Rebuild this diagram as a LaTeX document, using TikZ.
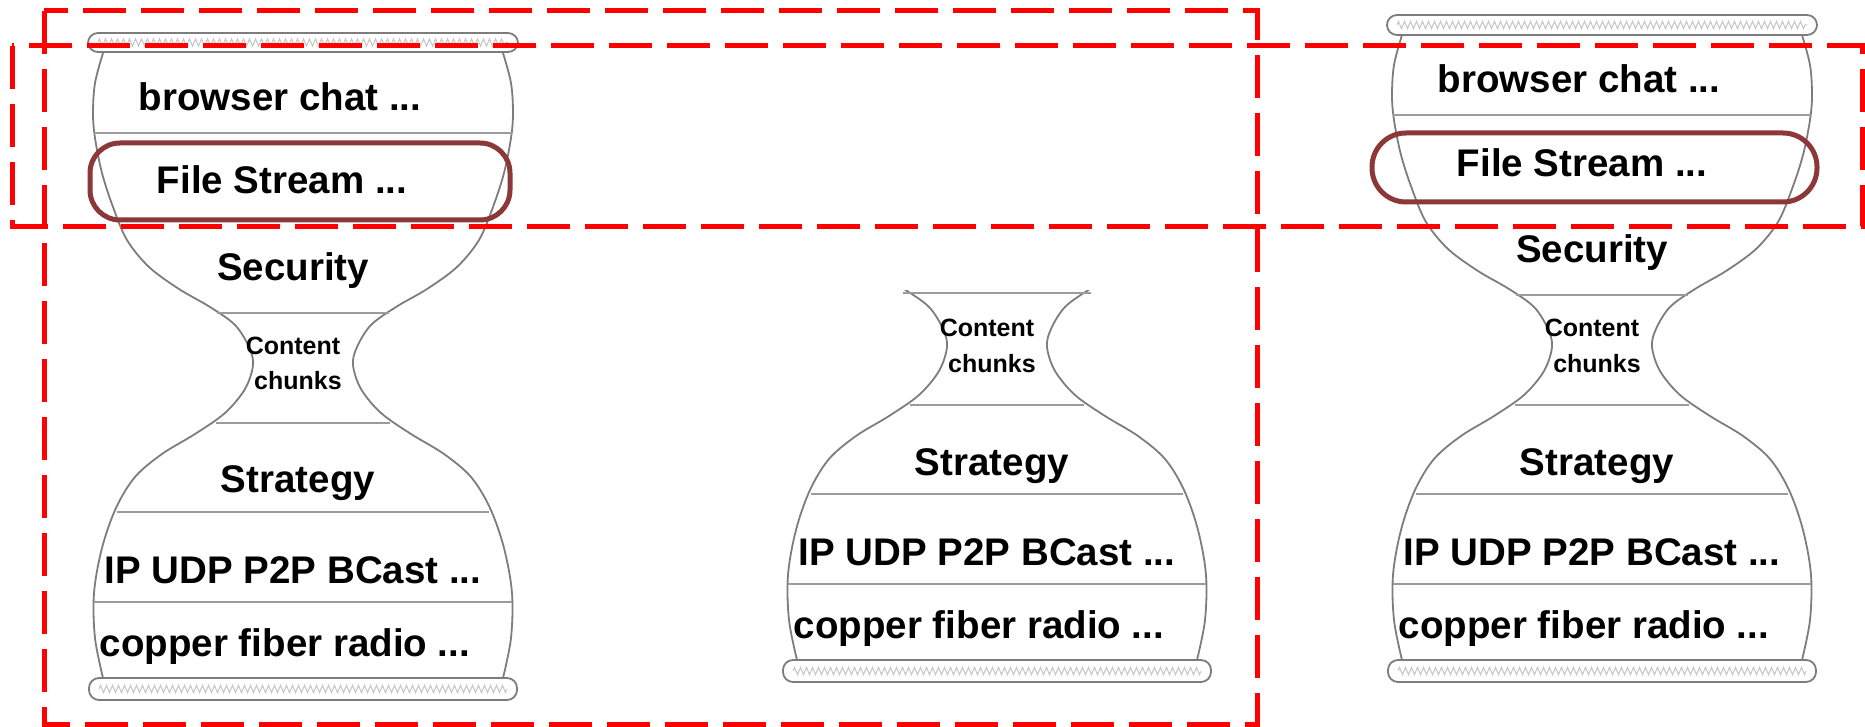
\documentclass[tikz,border=0pt]{standalone}
\usepackage{fontspec}
\setmainfont{Liberation Sans}
\usepackage{tikz}
\usetikzlibrary{decorations.pathmorphing}

\definecolor{markred}{RGB}{255,0,0}
\definecolor{ringbrown}{RGB}{140,56,56}
\definecolor{glassgray}{RGB}{125,125,125}
\definecolor{layergray}{RGB}{155,155,155}

\tikzset{
  glassline/.style={draw=glassgray, line width=0.9pt},
  layerline/.style={draw=layergray, line width=1pt},
  capbox/.style={draw=glassgray, fill=white, line width=0.9pt, rounded corners=5pt},
  capzig/.style={draw=gray!45, line width=0.5pt, decorate, decoration={zigzag, segment length=3pt, amplitude=1.8pt}},
  layertext/.style={font=\bfseries\fontsize{19.25}{23}\selectfont, anchor=base, inner sep=0pt},
  chunktext/.style={font=\bfseries\fontsize{12.5}{15}\selectfont, anchor=base, inner sep=0pt},
  ringbox/.style={draw=ringbrown, line width=2.5pt},
  markbox/.style={draw=markred, line width=2.5pt, dash pattern=on 21.5pt off 7.5pt},
}

% one side of the glass, from the top cap down to the bottom cap
\newcommand{\glassside}{plot[smooth, tension=0.55] coordinates {(200,20) (208,50) (210,80) (208,105) (201,140) (190,174) (176,207) (154,234) (124,256) (93,274) (68,292) (54,314) (50,332) (58,356) (78,380) (108,401) (141,421) (168,444) (187,475) (201,515) (209,560) (208,605) (200,645)}}

\begin{document}
\begin{tikzpicture}[x=0.5pt, y=-0.5pt]
    \useasboundingbox (0,0) rectangle (1865,727);

    % left glass
    \begin{scope}[shift={(303,33)}]
         \draw[glassline] \glassside;
         \draw[glassline, xscale=-1] \glassside;
         \draw[capbox] (-215,0) rectangle (215,19);
         \draw[capzig] (-205,9.5) -- (205,9.5);
         \draw[capbox] (-214,645) rectangle (214,667);
         \draw[capzig] (-204,656) -- (204,656);
         \draw[layerline] (-209,100) -- (209,100);
         \draw[layerline] (-86,280) -- (86,280);
         \draw[layerline] (-87,390) -- (87,390);
         \draw[layerline] (-186,479) -- (186,479);
         \draw[layerline] (-209,569) -- (209,569);
         \node[layertext] (lapp) at (-23,78) {browser chat ...};
         \node[layertext] (lfile) at (-21,161) {File Stream ...};
         \node[layertext] (lsec) at (-10,248) {Security};
         \node[chunktext] (lcontent) at (-10,322) {Content};
         \node[chunktext] (lchunks) at (-5,357) {chunks};
         \node[layertext] (lstrat) at (-5,460) {Strategy};
         \node[layertext] (lnet) at (-10,550) {IP UDP P2P BCast ...};
         \node[layertext] (lphy) at (-18,623) {copper fiber radio ...};
    \end{scope}

    % middle glass, lower half only
    \begin{scope}[shift={(997,15)}]
         \clip (-260,276) rectangle (260,700);
         \draw[glassline] \glassside;
         \draw[glassline, xscale=-1] \glassside;
         \draw[capbox] (-214,645) rectangle (214,667);
         \draw[capzig] (-204,656) -- (204,656);
         \draw[layerline] (-94,278) -- (94,278);
         \draw[layerline] (-87,390) -- (87,390);
         \draw[layerline] (-186,479) -- (186,479);
         \draw[layerline] (-209,569) -- (209,569);
         \node[chunktext] (mcontent) at (-10,322) {Content};
         \node[chunktext] (mchunks) at (-5,357) {chunks};
         \node[layertext] (mstrat) at (-5,460) {Strategy};
         \node[layertext] (mnet) at (-10,550) {IP UDP P2P BCast ...};
         \node[layertext] (mphy) at (-18,623) {copper fiber radio ...};
    \end{scope}

    % right glass
    \begin{scope}[shift={(1602,15)}]
         \draw[glassline] \glassside;
         \draw[glassline, xscale=-1] \glassside;
         \draw[capbox] (-215,0) rectangle (215,20);
         \draw[capzig] (-205,10) -- (205,10);
         \draw[capbox] (-214,645) rectangle (214,667);
         \draw[capzig] (-204,656) -- (204,656);
         \draw[layerline] (-209,100) -- (209,100);
         \draw[layerline] (-86,280) -- (86,280);
         \draw[layerline] (-87,390) -- (87,390);
         \draw[layerline] (-186,479) -- (186,479);
         \draw[layerline] (-209,569) -- (209,569);
         \node[layertext] (rapp) at (-23,78) {browser chat ...};
         \node[layertext] (rfile) at (-20,162) {File Stream ...};
         \node[layertext] (rsec) at (-10,248) {Security};
         \node[chunktext] (rcontent) at (-10,322) {Content};
         \node[chunktext] (rchunks) at (-5,357) {chunks};
         \node[layertext] (rstrat) at (-5,460) {Strategy};
         \node[layertext] (rnet) at (-10,550) {IP UDP P2P BCast ...};
         \node[layertext] (rphy) at (-18,623) {copper fiber radio ...};
    \end{scope}

    % rings round the file layer
    \draw[ringbox, rounded corners=15pt] (90,143) rectangle (510,220);
    \draw[ringbox, rounded corners=17pt] (1372,133) rectangle (1817,202);

    % dashed frames
    \draw[markbox] (44,11) rectangle (1257,724);
    \draw[markbox] (12,46) rectangle (1862,227);
\end{tikzpicture}
\end{document}
